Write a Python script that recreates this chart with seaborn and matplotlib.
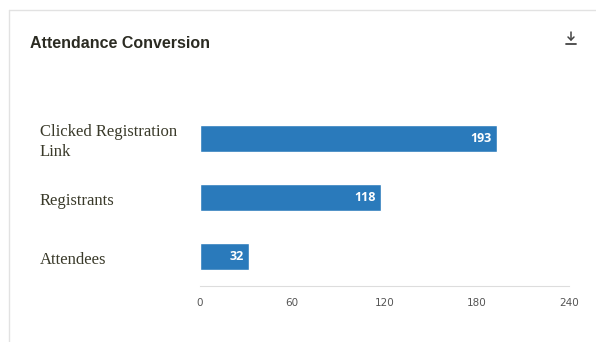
import matplotlib
matplotlib.use("Agg")
import matplotlib.pyplot as plt
import matplotlib.transforms as mtransforms
import seaborn as sns
import pandas as pd
from matplotlib.lines import Line2D

categories = ["Clicked Registration\nLink", "Registrants", "Attendees"]
values = [193, 118, 32]
xticks = [0, 60, 120, 180, 240]
title = "Attendance Conversion"

sns.set_theme(style="white")
plt.rcParams['font.family'] = ['DejaVu Sans']

df = pd.DataFrame({"stage": categories, "count": values})

fig = plt.figure(figsize=(5.96, 3.42), dpi=100)
W, H = 596, 342
ax = fig.add_axes([200 / W, 1 - 286 / H, 369 / W, 177 / H])

sns.barplot(data=df, x="count", y="stage", orient="h", color="#2a7abb",
            saturation=1, width=0.47, ax=ax)

ax.set_xlim(0, 240)
ax.set_ylim(2.5, -0.5)
ax.set_xticks(xticks)
ax.set_xticklabels([str(t) for t in xticks], fontsize=7.5, color="#555555",
                   family="DejaVu Sans")
ax.tick_params(axis="x", length=0, pad=9)
ax.tick_params(axis="y", length=0)
ax.set_yticks(range(len(categories)))
ax.set_yticklabels([])
ax.set_xlabel("")
ax.set_ylabel("")
for s in ["top", "right", "left"]:
    ax.spines[s].set_visible(False)
ax.spines["bottom"].set_color("#dddddd")
ax.spines["bottom"].set_linewidth(0.8)

# value labels inside bars (positions taken from the drawn bars)
for patch, v in zip(ax.patches, values):
    x_end = patch.get_x() + patch.get_width()
    y_mid = patch.get_y() + patch.get_height() / 2
    ax.annotate(str(v), (x_end, y_mid), xytext=(-4, 0),
                textcoords="offset points", ha="right", va="center",
                color="white", fontsize=9, fontweight="bold",
                family="Open Sans")

# category labels (serif, left aligned at figure x, slightly below centre)
blend = mtransforms.blended_transform_factory(fig.transFigure, ax.transData)
shift = mtransforms.ScaledTranslation(0, -2.5 / 72, fig.dpi_scale_trans)
for i, cat in enumerate(categories):
    ax.text(40 / W, i, cat, transform=blend + shift, fontsize=12,
            family="Liberation Serif", color="#3a3a2a", va="center",
            ha="left", linespacing=1.35, clip_on=False)

# card border
fig.add_artist(Line2D([9 / W, 9 / W], [0, 1 - 10 / H], color="#e2e2e2",
                      lw=1, transform=fig.transFigure))
fig.add_artist(Line2D([9 / W, 1], [1 - 10 / H, 1 - 10 / H], color="#e2e2e2",
                      lw=1, transform=fig.transFigure))

# title
fig.text(30 / W, 1 - 44 / H, title, fontsize=11.5, fontweight="bold",
         family="Liberation Sans", color="#2b2b22", va="center", ha="left")

# download icon
cx = 571 / W
fig.add_artist(Line2D([cx, cx], [1 - 32 / H, 1 - 40 / H], color="#444444",
                      lw=1.1, transform=fig.transFigure))
fig.add_artist(Line2D([cx - 3 / W, cx, cx + 3 / W],
                      [1 - 37 / H, 1 - 40 / H, 1 - 37 / H],
                      color="#444444", lw=1.1, transform=fig.transFigure))
fig.add_artist(Line2D([cx - 5 / W, cx + 5 / W], [1 - 43.5 / H, 1 - 43.5 / H],
                      color="#444444", lw=1.3, transform=fig.transFigure))

fig.savefig("out.png", dpi=100)
